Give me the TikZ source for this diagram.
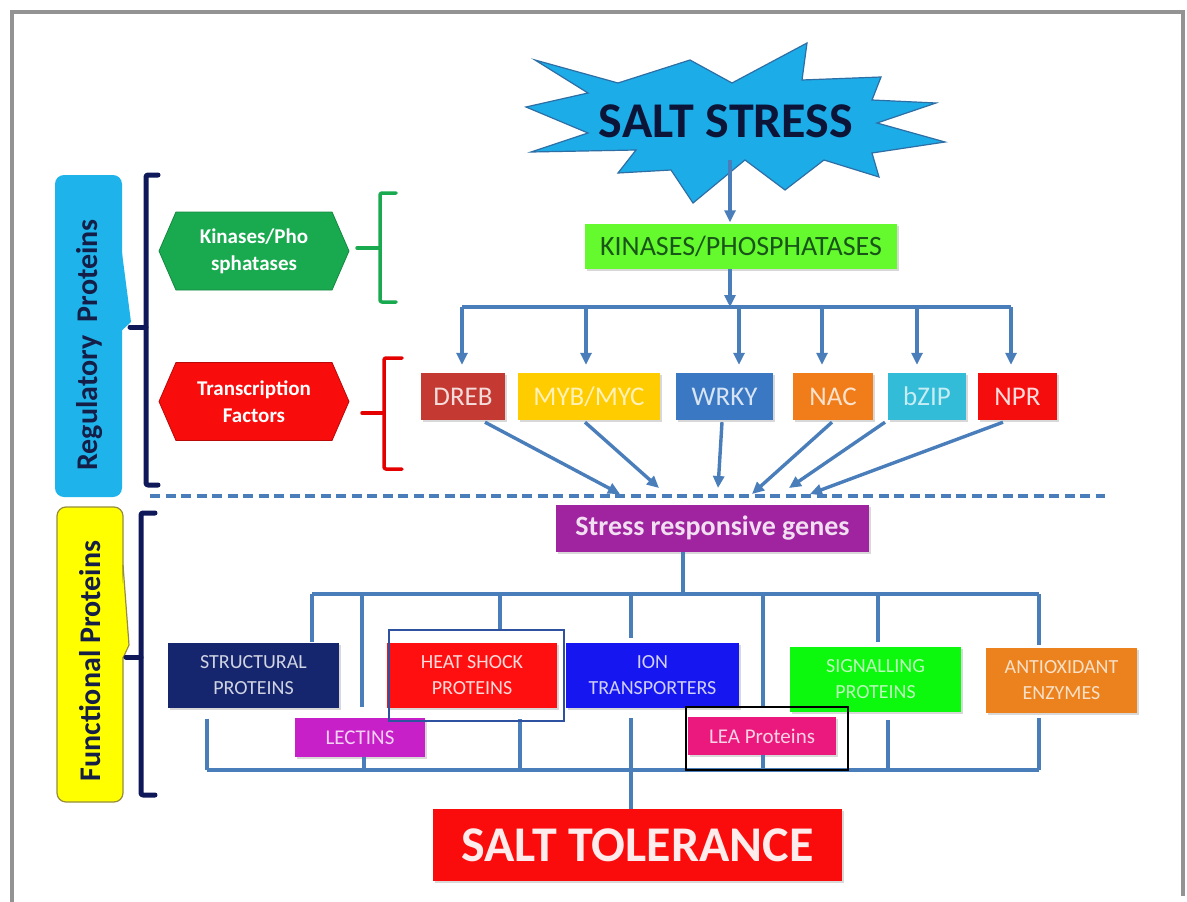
\documentclass[tikz,border=0pt]{standalone}
\usepackage{fontspec}
\setmainfont{Carlito}
\usetikzlibrary{arrows.meta,shapes.symbols,shadows}
\definecolor{lineblue}{RGB}{74,126,187}
\definecolor{starblue}{RGB}{28,172,232}
\definecolor{starline}{RGB}{45,110,165}
\definecolor{darknavy}{RGB}{12,20,55}
\definecolor{lime}{RGB}{100,250,45}
\definecolor{kintext}{RGB}{25,85,25}
\definecolor{drebc}{RGB}{196,58,50}
\definecolor{mybc}{RGB}{255,204,0}
\definecolor{wrkyc}{RGB}{58,120,196}
\definecolor{nacc}{RGB}{240,125,25}
\definecolor{bzipc}{RGB}{50,188,215}
\definecolor{nprc}{RGB}{245,12,12}
\definecolor{purp}{RGB}{160,35,160}
\definecolor{structc}{RGB}{22,38,110}
\definecolor{hspc}{RGB}{255,15,15}
\definecolor{ionc}{RGB}{22,22,240}
\definecolor{sigc}{RGB}{12,248,12}
\definecolor{antc}{RGB}{235,130,30}
\definecolor{lecc}{RGB}{200,32,200}
\definecolor{leac}{RGB}{235,25,125}
\definecolor{tolc}{RGB}{250,12,12}
\definecolor{regc}{RGB}{30,180,235}
\definecolor{funcc}{RGB}{255,255,0}
\definecolor{funcline}{RGB}{150,140,60}
\definecolor{kinhexc}{RGB}{25,170,80}
\definecolor{tfhexc}{RGB}{248,12,12}
\definecolor{navy}{RGB}{15,25,90}
\definecolor{labnavy}{RGB}{20,30,70}
\definecolor{hspframe}{RGB}{47,82,160}
\begin{document}
\begin{tikzpicture}[x=1pt,y=-1pt,
  ln/.style={draw=lineblue, line width=3.4pt},
  arr/.style={ln, -{Triangle[length=12pt,width=11pt]}},
  dashline/.style={draw=lineblue, line width=3.4pt, dash pattern=on 10pt off 5.5pt},
  shad/.style={drop shadow={shadow xshift=2pt, shadow yshift=-2pt, opacity=0.3}},
  tfbox/.style={shad, inner sep=0pt, minimum height=47pt, font=\fontsize{27}{29}\selectfont},
  fbox/.style={shad, inner sep=0pt, minimum height=65pt, align=center, font=\fontsize{20}{26}\selectfont},
  sbox/.style={shad, inner sep=0pt, minimum height=39pt, font=\fontsize{21}{24}\selectfont},
  hexa/.style={signal, signal to=east and west, signal pointer angle=133, inner sep=0pt,
    minimum width=190pt, minimum height=78pt, align=center, text=white,
    font=\bfseries\fontsize{21}{27}\selectfont},
  brk/.style={line width=5pt, line join=round, line cap=round, rounded corners=2pt},
  brkthin/.style={line width=3.5pt, line join=round, line cap=round, rounded corners=2pt},
  vlab/.style={rotate=90, text=labnavy, font=\bfseries\fontsize{30}{32}\selectfont}
]
\useasboundingbox (0,0) rectangle (1187,902);
\fill[white] (0,0) rectangle (1187,902);
\draw[gray!85, line width=3.5pt] (12,902) -- (12,12) -- (1183,12) -- (1183,896);

% ---------- starburst ----------
\filldraw[fill=starblue, draw=starline, line width=1.2pt, line join=miter]
  (535,60) -- (618,83) -- (690,60) -- (732,83) -- (807,43) -- (802,80) -- (881,77)
  -- (872,100) -- (936,103) -- (877,123) -- (945,142) -- (872,153) -- (879,177)
  -- (824,160) -- (785,190) -- (745,160) -- (693,203) -- (671,170) -- (618,173)
  -- (636,150) -- (531,152) -- (588,133) -- (526,107) -- (588,93) -- cycle;
\node[text=darknavy, font=\bfseries\fontsize{50}{52}\selectfont] (star) at (726,121) {SALT STRESS};
\coordinate (s1) at (730,160);

% ---------- kinases ----------
\node[shad, fill=lime, minimum width=312pt, minimum height=45pt, inner sep=0pt,
  text=kintext, font=\fontsize{28}{30}\selectfont] (kin) at (741,246) {KINASES/PHOSPHATASES};
\draw[arr, shorten >=1pt] (s1) -- (s1 |- kin.north);
\coordinate (b0) at (730,307);
\draw[arr] (kin.south -| b0) -- (b0);
\coordinate (bl) at (462,307);
\coordinate (br) at (1011,307);
\draw[ln] (bl) -- (br);

% ---------- transcription factor boxes ----------
\node[tfbox, fill=drebc, minimum width=84pt, text=white!82!drebc] (dreb) at (463,396.5) {DREB};
\node[tfbox, fill=mybc, minimum width=142pt, text=white!72!mybc] (myb) at (589,396.5) {MYB/MYC};
\node[tfbox, fill=wrkyc, minimum width=97pt, text=white!80!wrkyc] (wrky) at (724.5,396.5) {WRKY};
\node[tfbox, fill=nacc, minimum width=80pt, text=white!78!nacc] (nac) at (833,396.5) {NAC};
\node[tfbox, fill=bzipc, minimum width=78pt, text=white!72!bzipc] (bzip) at (927,396.5) {bZIP};
\node[tfbox, fill=nprc, minimum width=79pt, text=white!85!nprc] (npr) at (1017.5,396.5) {NPR};

\draw[arr, shorten >=8pt] (bl) -- (bl |- dreb.north);
\draw[arr, shorten >=8pt] (586,307) -- (586,307 |- myb.north);
\draw[arr, shorten >=8pt] (739,307) -- (739,307 |- wrky.north);
\draw[arr, shorten >=8pt] (822,307) -- (822,307 |- nac.north);
\draw[arr, shorten >=8pt] (917,307) -- (917,307 |- bzip.north);
\draw[arr, shorten >=8pt] (br) -- (br |- npr.north);

% ---------- dashed divider ----------
\coordinate (d1) at (150,496);
\coordinate (d2) at (1105,496);
\draw[dashline] (d1) -- (d2);

% ---------- converging arrows ----------
\coordinate (t1) at (620,494);
\coordinate (t2) at (659,488);
\coordinate (t3) at (718,488);
\coordinate (t4) at (752,494);
\coordinate (t5) at (789,488);
\coordinate (t6) at (810,494);
\draw[arr] ([xshift=22pt,yshift=-2pt]dreb.south) -- (t1);
\draw[arr] ([xshift=-4pt,yshift=-2pt]myb.south) -- (t2);
\draw[arr] ([xshift=-2.5pt,yshift=-2pt]wrky.south) -- (t3);
\draw[arr] ([xshift=-1pt,yshift=-2pt]nac.south) -- (t4);
\draw[arr] ([xshift=-42pt,yshift=-2pt]bzip.south) -- (t5);
\draw[arr] ([xshift=-14.5pt,yshift=-2pt]npr.south) -- (t6);

% ---------- stress responsive genes ----------
\node[shad, fill=purp, minimum width=313pt, minimum height=47pt, inner sep=0pt,
  text=white!85!purp, font=\bfseries\fontsize{28}{30}\selectfont] (srg) at (712.5,528.5) {Stress responsive genes};

% ---------- functional boxes ----------
\node[fbox, fill=structc, minimum width=171pt, text=white!80!structc] (sp) at (253.5,675) {STRUCTURAL\\PROTEINS};
\node[fbox, fill=hspc, minimum width=170pt, text=white!85!hspc] (hsp) at (472,675.5) {HEAT SHOCK\\PROTEINS};
\node[fbox, fill=ionc, minimum width=173pt, text=white!80!ionc] (ion) at (652.5,675.5) {ION\\TRANSPORTERS};
\node[fbox, fill=sigc, minimum width=171pt, text=white!72!sigc] (sig) at (875.5,679.5) {SIGNALLING\\PROTEINS};
\node[fbox, fill=antc, minimum width=151pt, text=white!75!antc] (ant) at (1061.5,680.5) {ANTIOXIDANT\\ENZYMES};
\node[sbox, fill=lecc, minimum width=130pt, text=white!80!lecc] (lec) at (360,737.5) {LECTINS};
\node[sbox, fill=leac, minimum width=148pt, minimum height=38pt, text=white!80!leac] (lea) at (762,736) {LEA Proteins};
\node[shad, fill=tolc, minimum width=409pt, minimum height=72pt, inner sep=0pt,
  text=white!92!tolc, font=\bfseries\fontsize{50}{52}\selectfont] (tol) at (637.5,845) {SALT TOLERANCE};

% upper distribution bus
\coordinate (u0) at (683,594);
\coordinate (ul) at (312,594);
\coordinate (ur) at (1039,594);
\draw[ln] (srg.south -| u0) -- (u0);
\draw[ln] (ul) -- (ur);
\draw[ln] (ul) -- (ul |- sp.north);
\draw[ln, shorten >=11pt] (362,594) -- (362,594 |- lec.north);
\draw[ln, shorten >=13pt] (500,594) -- (500,594 |- hsp.north);
\draw[ln, shorten >=5pt] (631,594) -- (631,594 |- ion.north);
\draw[ln, shorten >=10pt] (763,594) -- (763,594 |- lea.north);
\draw[ln, shorten >=5pt] (878,594) -- (878,594 |- sig.north);
\draw[ln, shorten >=3pt] (ur) -- (ur |- ant.north);

% lower collecting bus
\coordinate (ll) at (207,770);
\coordinate (lr) at (1039,770);
\draw[ln] (ll) -- (lr);
\draw[ln, shorten <=11pt] (sp.south -| ll) -- (ll);
\draw[ln] (lec.south -| 364,770) -- (364,770);
\draw[ln, shorten <=11pt] (hsp.south -| 520,770) -- (520,770);
\draw[ln, shorten <=10pt] (ion.south -| 631,770) -- (631,770 |- tol.north);
\draw[ln] (lea.south -| 763,770) -- (763,770);
\draw[ln, shorten <=8pt] (sig.south -| 888,770) -- (888,770);
\draw[ln, shorten <=5pt] (ant.south -| lr) -- (lr);

% highlight frames
\draw[hspframe, line width=2pt] (389,630) rectangle (564,721);
\draw[black, line width=2.5pt] (686,707) rectangle (848,770);

% ---------- left panel ----------
\fill[regc] (118,222) -- (131,322) -- (118,334) -- cycle;
\node[fill=regc, rounded corners=9pt, minimum width=67pt, minimum height=322pt, inner sep=0pt] (reg) at (88.5,336) {};
\node[vlab] (regt) at (90,345) {Regulatory\ \ Proteins};

\node[fill=funcc, draw=funcline, line width=1.2pt, rounded corners=9pt, minimum width=66pt, minimum height=295pt, inner sep=0pt] (func) at (90,654.5) {};
\filldraw[fill=funcc, draw=funcline, line width=1.2pt] (123,565) -- (129,645) -- (123,658);
\fill[funcc] (121,563) -- (128,645) -- (121,660) -- cycle;
\node[vlab] (funct) at (90,661) {Functional Proteins};

\draw[brk, navy] (158,175) -- (146,175) -- (146,485) -- (158,485);
\draw[brk, navy] (146,327) -- (130,327);
\draw[brk, navy] (155,513) -- (141,513) -- (141,795) -- (155,795);
\draw[brk, navy] (141,657) -- (126,657);

\node[hexa, fill=kinhexc, draw=kinhexc!80!black, line width=0.8pt] (kh) at (254,251) {Kinases/Pho\\sphatases};
\node[hexa, fill=tfhexc, draw=tfhexc!75!black, line width=0.8pt] (th) at (254,401.5) {Transcription\\Factors};

\draw[brkthin, kinhexc] (396,193) -- (380,193) -- (380,302) -- (396,302);
\draw[brkthin, kinhexc] (380,248) -- (357,248);
\draw[brkthin, red!90!black] (402,358) -- (384,358) -- (384,469) -- (402,469);
\draw[brkthin, red!90!black] (384,413) -- (362,413);
\end{tikzpicture}
\end{document}
